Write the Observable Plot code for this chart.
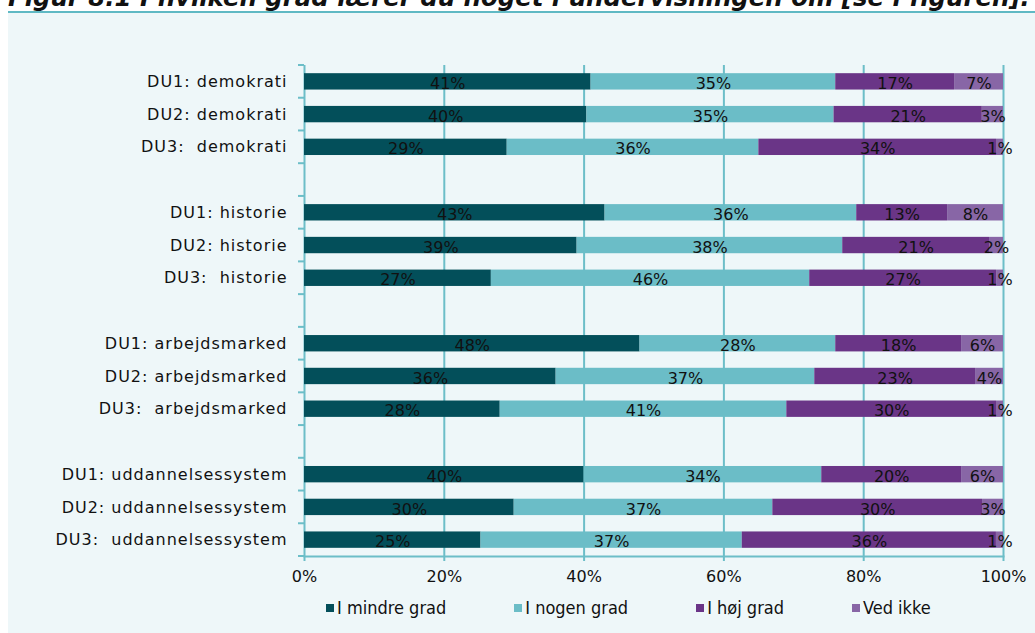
<!DOCTYPE html>
<html><head><meta charset="utf-8">
<script src="https://cdn.jsdelivr.net/npm/d3@7"></script>
<script src="https://cdn.jsdelivr.net/npm/@observablehq/plot@0.6"></script>
<style>
html,body{margin:0;padding:0;background:#fff;width:1035px;height:633px;overflow:hidden;position:relative;font-family:"DejaVu Sans",sans-serif;}
#title{position:absolute;left:8px;top:-14px;font:italic bold 24.4px/24.4px "DejaVu Sans",sans-serif;color:#111;white-space:nowrap;}
#panel{position:absolute;left:8px;top:11px;right:0;bottom:0;border-top:2px solid #5fb9c4;background:#eef7f9;}
#chart{position:absolute;left:0;top:0;}
#legend{position:absolute;left:318px;top:584px;display:flex;gap:68px;align-items:center;font-family:"DejaVu Sans Condensed","DejaVu Sans",sans-serif;font-stretch:condensed;font-size:18px;color:#111;white-space:nowrap;}
#legend .item{display:flex;align-items:center;gap:3px;}
#legend .sw{width:8px;height:8px;display:inline-block;}
svg text{white-space:pre;}
g[aria-label="y-axis tick label"] text{letter-spacing:1px;}
</style>
</head><body>
<div id="title">Figur 8.1 I hvilken grad lærer du noget i undervisningen om [se i figuren]:</div>
<div id="panel"><div id="chart"></div><div id="legend"></div></div>
<script>
const rows = [
  "DU1: demokrati", "DU2: demokrati", "DU3:  demokrati",
  "DU1: historie", "DU2: historie", "DU3:  historie",
  "DU1: arbejdsmarked", "DU2: arbejdsmarked", "DU3:  arbejdsmarked",
  "DU1: uddannelsessystem", "DU2: uddannelsessystem", "DU3:  uddannelsessystem"
];
const seriesNames = ["I mindre grad", "I nogen grad", "I høj grad", "Ved ikke"];
const mindre  = [41, 40, 29, 43, 39, 27, 48, 36, 28, 40, 30, 25];
const nogen   = [35, 35, 36, 36, 38, 46, 28, 37, 41, 34, 37, 37];
const hoej    = [17, 21, 34, 13, 21, 27, 18, 23, 30, 20, 30, 36];
const vedIkke = [7, 3, 1, 8, 2, 1, 6, 4, 1, 6, 3, 1];
const xTicks = [0, 0.2, 0.4, 0.6, 0.8, 1];
const colors = ["#034f5a", "#6bbdc7", "#6a3587", "#8866a6"];
const gridColor = "#6cbec8";

const seriesValues = [mindre, nogen, hoej, vedIkke];
const data = [];
rows.forEach((r, i) => seriesNames.forEach((s, j) => data.push({row: r, series: s, value: seriesValues[j][i]})));

// category domain with an empty slot after each group of three
const domainY = [];
rows.forEach((r, i) => {
  domainY.push(r);
  if (i % 3 === 2 && i < rows.length - 1) domainY.push("gap" + i);
});

const chart = Plot.plot({
  width: 1027, height: 580,
  marginLeft: 296, marginRight: 32, marginTop: 52, marginBottom: 37,
  style: {background: "transparent", fontFamily: "DejaVu Sans, sans-serif", fontSize: "16px", color: "#111", overflow: "visible"},
  x: {domain: [0, 1]},
  y: {domain: domainY, paddingInner: 0.5, paddingOuter: 0.25, align: 0.5, round: false},
  color: {domain: seriesNames, range: colors},
  marks: [
    Plot.ruleX(xTicks, {stroke: gridColor, strokeWidth: 2}),
    Plot.barX(data, Plot.stackX({offset: "normalize", order: null, x: "value", y: "row", fill: "series"})),
    Plot.textX(data, Plot.stackX({offset: "normalize", order: null, x: "value", y: "row", z: "series",
      text: d => d.value + "%", fill: "#111", fontSize: 16, dy: 2})),
    Plot.frame({anchor: "bottom", stroke: gridColor, strokeWidth: 2}),
    Plot.axisX({ticks: xTicks, tickFormat: d3.format(".0%"), tickSize: 5, tickPadding: 9, stroke: gridColor, strokeWidth: 2, fill: "#111", fontSize: 16, label: null}),
    Plot.axisY({tickSize: 0, tickPadding: 17, tickFormat: d => d.startsWith("gap") ? "" : d, fill: "#111", fontSize: 16, label: null})
  ]
});
document.getElementById("chart").appendChild(chart);

// y-axis tick marks at category boundaries (Excel style)
const ys = chart.scale("y");
const xs = chart.scale("x");
const gapHalf = (ys.step - ys.bandwidth) / 2;
const bounds = domainY.map(v => ys.apply(v) - gapHalf);
bounds.push(ys.apply(domainY[domainY.length - 1]) + ys.bandwidth + gapHalf);
const x0 = xs.apply(0);
d3.select(chart).append("g").attr("stroke", gridColor).attr("stroke-width", 2)
  .selectAll("line").data(bounds).join("line")
  .attr("x1", x0 - 6).attr("x2", x0).attr("y1", d => d).attr("y2", d => d);

// legend
const legend = d3.select("#legend");
seriesNames.forEach((s, i) => {
  const it = legend.append("div").attr("class", "item");
  it.append("span").attr("class", "sw").style("background", colors[i]);
  it.append("span").text(s);
});
</script>
</body></html>
